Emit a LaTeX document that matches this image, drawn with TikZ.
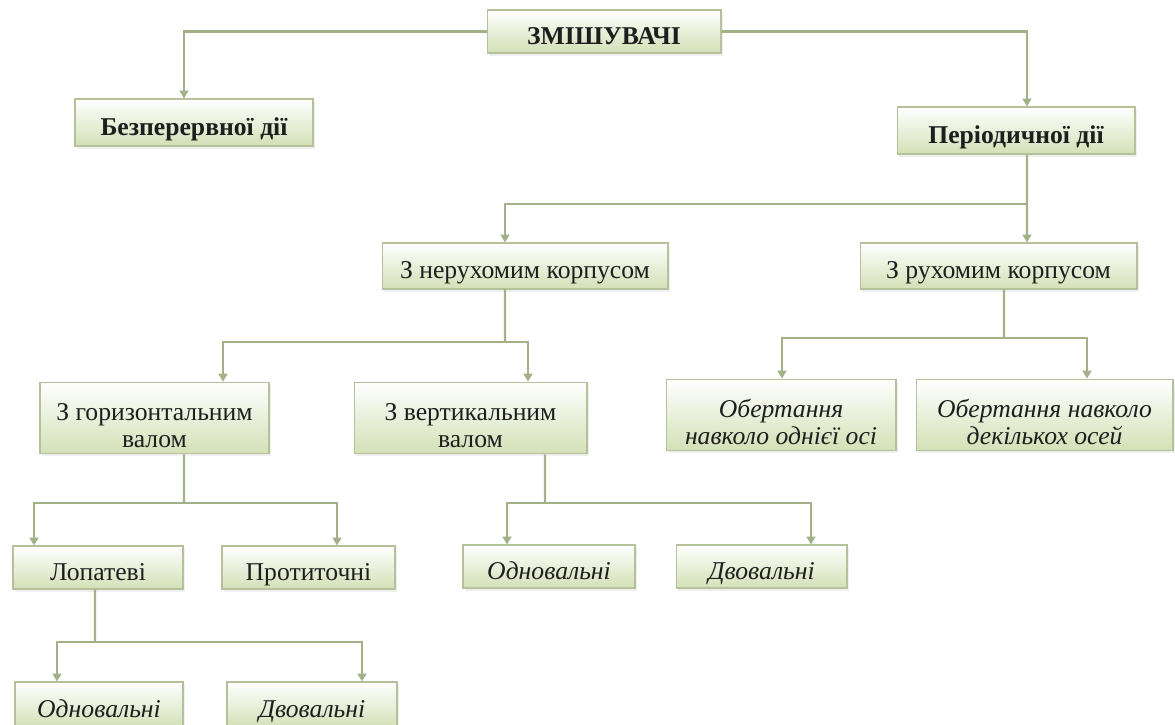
\documentclass[tikz,border=0pt]{standalone}
\usepackage{fontspec}
\setmainfont{Liberation Serif}
\usetikzlibrary{positioning,arrows.meta,shadows}

\definecolor{boxgreen}{HTML}{D3E0B6}
\definecolor{boxline}{HTML}{B4C19A}
\definecolor{linkgreen}{HTML}{A4B088}
\definecolor{textgray}{HTML}{1E1E1E}

\newcommand{\topstrut}{\rule{0pt}{1.24em}}
\newcommand{\bottomstrut}{\rule[-0.24em]{0pt}{0.24em}}
\newcommand{\firstline}{\rule{0pt}{1.5em}}

\begin{document}
\begin{tikzpicture}[x=0.02cm, y=-0.02cm,
    every node/.style={inner sep=0cm, text=textgray, font=\fontsize{14.6}{15.4}\selectfont},
    box/.style={rectangle, draw=boxline, line width=0.6pt, top color=white, bottom color=boxgreen, align=center,
        execute at begin node=\topstrut, execute at end node=\bottomstrut,
        drop shadow={opacity=0.12, shadow xshift=1.2pt, shadow yshift=-1.5pt}},
    boxb/.style={box, font=\fontsize{14.6}{15.4}\selectfont\bfseries},
    boxi/.style={box, font=\fontsize{14.6}{15.4}\selectfont\itshape},
    link/.style={draw=linkgreen, line width=1.4pt},
    arr/.style={link, -{Triangle[width=5pt,length=4.5pt]}}]
    \fill[white] (0,0) rectangle (1175,724);
    \useasboundingbox (0,0) rectangle (1175,724);

    % top level
    \node (mixers) at (604,31.5) [boxb, minimum width=4.68cm, minimum height=0.86cm]{ЗМІШУВАЧІ};
    \node (contin) at (194,122.5) [boxb, minimum width=4.76cm, minimum height=0.94cm]{Безперервної дії};
    \node (period) at (1016,130.5) [boxb, minimum width=4.76cm, minimum height=0.94cm]{Періодичної дії};

    % housing
    \node (fixed) at (525,266) [box, minimum width=5.72cm, minimum height=0.92cm]{З нерухомим корпусом};
    \node (moving) at (998.5,266) [box, minimum width=5.54cm, minimum height=0.92cm]{З рухомим корпусом};

    % shafts and rotation
    \node (horshaft) at (154.5,418) [box, minimum width=4.58cm, minimum height=1.4cm]{\firstline З горизонтальним\\валом};
    \node (vershaft) at (470.5,418) [box, minimum width=4.66cm, minimum height=1.4cm]{\firstline З вертикальним\\валом};
    \node (oneaxis) at (781,415) [boxi, minimum width=4.6cm, minimum height=1.38cm]{\firstline Обертання\\навколо однієї осі};
    \node (manyaxis) at (1044.5,415) [boxi, minimum width=5.14cm, minimum height=1.38cm]{\firstline Обертання навколо\\декількох осей};

    % fourth row
    \node (paddle) at (98,567.5) [box, minimum width=3.4cm, minimum height=0.86cm]{Лопатеві};
    \node (counter) at (308.5,567.5) [box, minimum width=3.46cm, minimum height=0.86cm]{Протиточні};
    \node (singlev) at (549,566.5) [boxi, minimum width=3.44cm, minimum height=0.86cm]{Одновальні};
    \node (doublev) at (761.5,566.5) [boxi, minimum width=3.42cm, minimum height=0.86cm]{Двовальні};

    % bottom row
    \node (singlep) at (99,705) [boxi, minimum width=3.36cm, minimum height=0.92cm]{Одновальні};
    \node (doublep) at (312,705) [boxi, minimum width=3.4cm, minimum height=0.92cm]{Двовальні};

    \coordinate (jper) at (1027,204);
    \coordinate (jfix) at (505,342);
    \coordinate (jmov) at (1004,338);
    \coordinate (jhor) at (184,503);
    \coordinate (jver) at (545,503);
    \coordinate (jpad) at (95,642);

    \draw[arr] (mixers.west) -| ([xshift=-0.2cm]contin.north);
    \draw[arr] (mixers.east) -| ([xshift=0.22cm]period.north);

    \draw[link] ([xshift=0.22cm]period.south) -- (jper);
    \draw[arr] (jper) -| ([xshift=-0.4cm]fixed.north);
    \draw[arr] (jper) -- ([xshift=0.57cm]moving.north);

    \draw[link] ([xshift=-0.4cm]fixed.south) -- (jfix);
    \draw[arr] (jfix) -| ([xshift=1.37cm]horshaft.north);
    \draw[arr] (jfix) -| ([xshift=1.15cm]vershaft.north);

    \draw[link] ([xshift=0.11cm]moving.south) -- (jmov);
    \draw[arr] (jmov) -| ([xshift=0.02cm]oneaxis.north);
    \draw[arr] (jmov) -| ([xshift=0.85cm]manyaxis.north);

    \draw[link] ([xshift=0.59cm]horshaft.south) -- (jhor);
    \draw[arr] (jhor) -| ([xshift=-1.28cm]paddle.north);
    \draw[arr] (jhor) -| ([xshift=0.57cm]counter.north);

    \draw[link] ([xshift=1.49cm]vershaft.south) -- (jver);
    \draw[arr] (jver) -| ([xshift=-0.84cm]singlev.north);
    \draw[arr] (jver) -| ([xshift=0.99cm]doublev.north);

    \draw[link] ([xshift=-0.06cm]paddle.south) -- (jpad);
    \draw[arr] (jpad) -| ([xshift=-0.84cm]singlep.north);
    \draw[arr] (jpad) -| ([xshift=1cm]doublep.north);
\end{tikzpicture}
\end{document}
